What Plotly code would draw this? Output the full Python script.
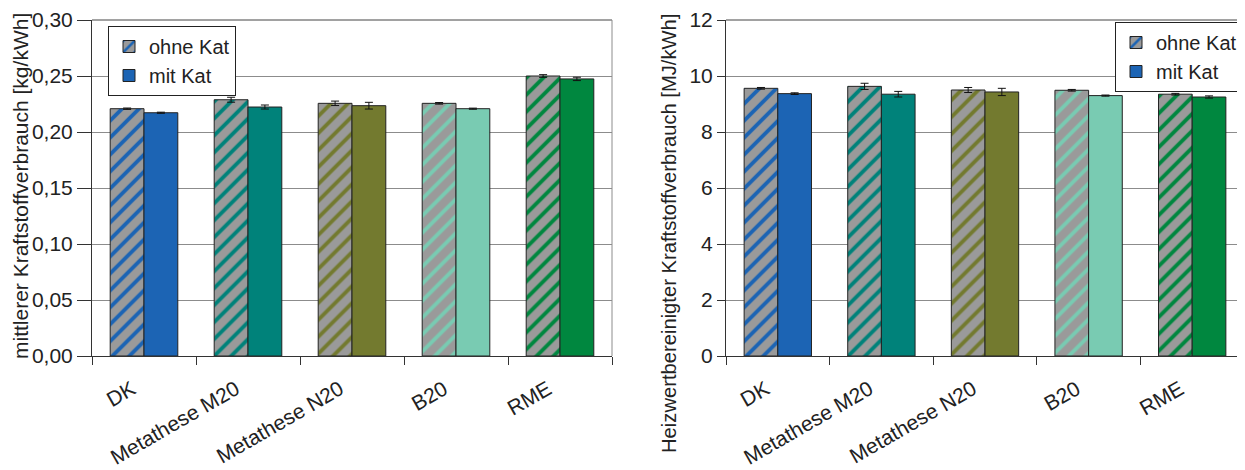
import plotly.graph_objects as go
from plotly.subplots import make_subplots

categories = ["DK", "Metathese M20", "Metathese N20", "B20", "RME"]
fuel_colors = ["#1C64B4", "#00827A", "#737A2F", "#79CBB2", "#00873F"]

cons_ohne = [0.2208, 0.2288, 0.2256, 0.2256, 0.2500]
cons_ohne_err = [0.0006, 0.0022, 0.0020, 0.0007, 0.0012]
cons_mit = [0.2172, 0.2223, 0.2235, 0.2208, 0.2474]
cons_mit_err = [0.0005, 0.0018, 0.0030, 0.0005, 0.0015]

heat_ohne = [9.56, 9.63, 9.50, 9.49, 9.35]
heat_ohne_err = [0.03, 0.11, 0.09, 0.03, 0.03]
heat_mit = [9.37, 9.35, 9.43, 9.30, 9.25]
heat_mit_err = [0.03, 0.10, 0.13, 0.02, 0.04]

left_ticks = [0, 0.05, 0.10, 0.15, 0.20, 0.25, 0.30]
right_ticks = [0, 2, 4, 6, 8, 10, 12]

left_title = "mittlerer Kraftstoffverbrauch [kg/kWh]"
right_title = "Heizwertbereinigter Kraftstoffverbrauch [MJ/kWh]"

FONT = "Liberation Sans, Arial, sans-serif"
FS = 21
OFF = 8  # the page body has an 8px margin; lay out in page pixels minus this
W, H = 1245 - OFF, 470 - OFF
ML, MR, MT = 92 - OFF, 1, 20 - OFF
MB = H - (356 - OFF)
PW = W - ML - MR
PH = H - MT - MB


def px_x(x):
    return (x - OFF - ML) / PW


def px_y(y):
    return 1 - (y - OFF - MT) / PH


fig = make_subplots(rows=1, cols=2)


def add_pair(ohne, ohne_err, mit, mit_err, col, legend):
    fig.add_trace(go.Bar(
        x=categories, y=ohne, name="ohne Kat", legend=legend,
        marker=dict(color="#9A9A9A", line=dict(color="#222222", width=1),
                    pattern=dict(shape="/", bgcolor="#9A9A9A", fgcolor=fuel_colors,
                                 size=12, solidity=0.32, fillmode="replace")),
        error_y=dict(type="data", array=ohne_err, color="#111111", thickness=1, width=4),
    ), row=1, col=col)
    fig.add_trace(go.Bar(
        x=categories, y=mit, name="mit Kat", legend=legend,
        marker=dict(color=fuel_colors, line=dict(color="#222222", width=1)),
        error_y=dict(type="data", array=mit_err, color="#111111", thickness=1, width=4),
    ), row=1, col=col)


add_pair(cons_ohne, cons_ohne_err, cons_mit, cons_mit_err, 1, "legend")
add_pair(heat_ohne, heat_ohne_err, heat_mit, heat_mit_err, 2, "legend2")

xcommon = dict(type="category", tickson="boundaries", ticks="outside", ticklen=8,
               tickcolor="#333333", showline=True, linecolor="#333333", linewidth=1,
               showgrid=False, tickangle=-30, ticklabelstandoff=12, ticklabelshift=-12,
               automargin=False, tickfont=dict(size=FS, color="#222222"))
ycommon = dict(showline=True, linecolor="#333333", linewidth=1, ticks="outside",
               tickcolor="#333333", showgrid=True, gridcolor="#8C8C8C", gridwidth=1,
               zeroline=False, automargin=False, tickfont=dict(size=FS, color="#222222"))

fig.update_xaxes(domain=[0, px_x(612)], **xcommon, row=1, col=1)
fig.update_xaxes(domain=[px_x(726), 1.0], **xcommon, row=1, col=2)
fig.update_yaxes(range=[0, 0.30], tickvals=left_ticks, tickformat=".2f", ticklen=14,
                 **ycommon, row=1, col=1)
fig.update_yaxes(range=[0, 12], tickvals=right_ticks, ticklen=8,
                 **ycommon, row=1, col=2)

# axis titles as rotated annotations
fig.add_annotation(text=left_title, textangle=-90, showarrow=False,
                   xref="paper", yref="paper", x=px_x(20), y=px_y(186),
                   xanchor="center", yanchor="middle", font=dict(size=FS, color="#222222"))
fig.add_annotation(text=right_title, textangle=-90, showarrow=False,
                   xref="paper", yref="paper", x=px_x(669), y=px_y(234),
                   xanchor="center", yanchor="middle", font=dict(size=20.2, color="#222222"))

# top and right frame lines of each plot area
for xd, yd in (("x domain", "y domain"), ("x2 domain", "y2 domain")):
    fig.add_shape(type="line", xref=xd, yref=yd, x0=0, x1=1, y0=1, y1=1,
                  line=dict(color="#444444", width=1))
    fig.add_shape(type="line", xref=xd, yref=yd, x0=1, x1=1, y0=0, y1=1,
                  line=dict(color="#8C8C8C", width=1))

legend_style = dict(bgcolor="white", bordercolor="#222222", borderwidth=1,
                    font=dict(size=20, color="#222222", family=FONT),
                    yanchor="top", itemwidth=30, tracegroupgap=0)

fig.update_layout(
    width=W, height=H,
    margin=dict(l=ML, r=MR, t=MT, b=MB, autoexpand=False),
    paper_bgcolor="white", plot_bgcolor="white",
    font=dict(family=FONT, size=FS, color="#222222"),
    separators=",.",
    barmode="group", bargap=0.35, bargroupgap=0,
    legend=dict(x=px_x(108), xanchor="left", y=px_y(26), **legend_style),
    legend2=dict(x=px_x(1243), xanchor="right", y=px_y(22), **legend_style),
)

fig.write_html("out.html")
